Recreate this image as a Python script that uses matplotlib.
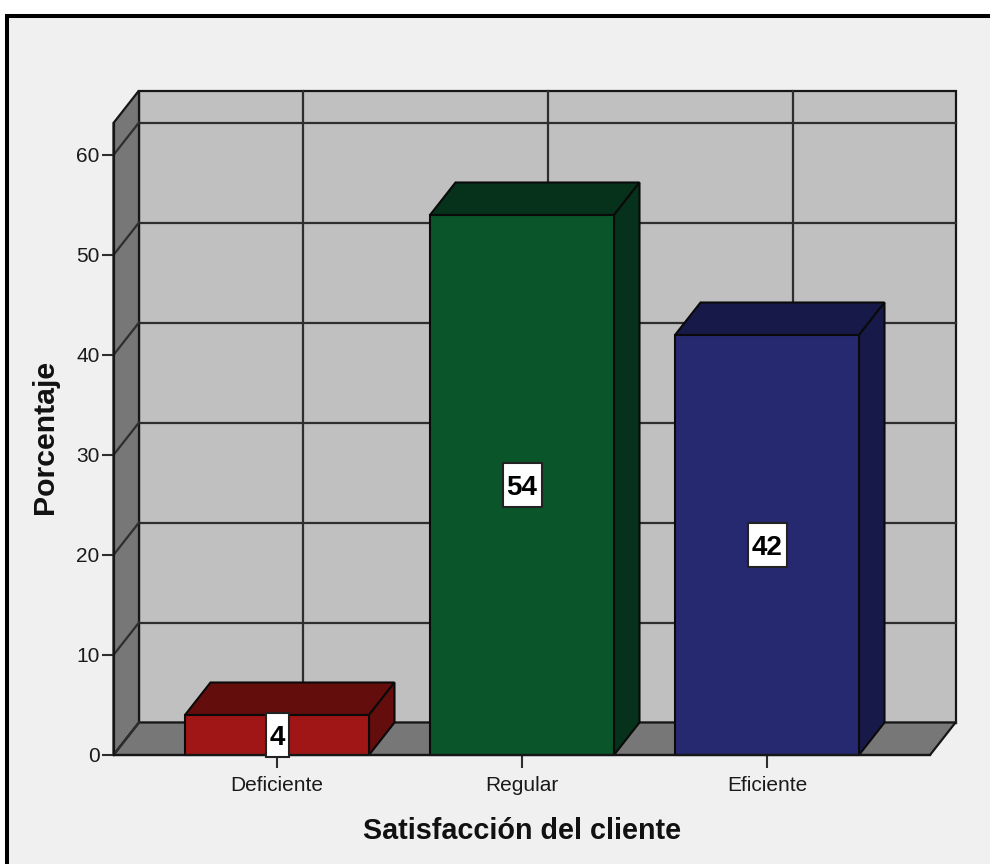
import matplotlib
matplotlib.use("Agg")
import matplotlib.pyplot as plt
from matplotlib import font_manager
from matplotlib.patches import Polygon, Rectangle

categories = ["Deficiente", "Regular", "Eficiente"]
percentages = [4, 54, 42]
y_ticks = [0, 10, 20, 30, 40, 50, 60]

face_colors = ["#a01616", "#0b552b", "#26296f"]
shade_colors = ["#640d0d", "#06311a", "#171a48"]

plt.rcParams["font.family"] = ["Liberation Sans", "DejaVu Sans"]

W, H = 990, 864
PX_PER_CAT = 245.0
PX_PER_UNIT = 10.0
DX = 25.5 / PX_PER_CAT   # depth of the box, in category units
DY = 32.5 / PX_PER_UNIT  # depth of the box, in percentage units
BAR_W = 184 / PX_PER_CAT
LEFT = (113.5 - 277) / PX_PER_CAT
RIGHT = (930 - 277) / PX_PER_CAT
TOP = 63.2
LINE = "#161616"
GRID = "#2e2e2e"

# Value labels use the condensed face when it is available
installed = {f.name for f in font_manager.fontManager.ttflist}
narrow = "Liberation Sans Narrow" in installed
value_family = "Liberation Sans Narrow" if narrow else "Liberation Sans"
value_size = 21.5 if narrow else 20

fig = plt.figure(figsize=(W / 100, H / 100), dpi=100, facecolor="white")
ax = fig.add_axes([0, 0, 1, 1], facecolor="none")
ax.set_xlim(-277 / PX_PER_CAT, (W - 277) / PX_PER_CAT)
ax.set_ylim((755 - H) / PX_PER_UNIT, 755 / PX_PER_UNIT)

# Panel background with the heavy black frame on its top and left sides
x_to_data = lambda px: (px - 277) / PX_PER_CAT
y_to_data = lambda py: (755 - py) / PX_PER_UNIT
ax.add_patch(Rectangle((x_to_data(6.7), y_to_data(H + 5)),
                       (W + 10) / PX_PER_CAT, (H - 11) / PX_PER_UNIT,
                       fc="#f0f0f0", ec="black", lw=2.9, zorder=0, clip_on=True))

# Back wall, left wall and floor of the box
ax.add_patch(Rectangle((LEFT + DX, DY), RIGHT - LEFT, TOP, fc="#c0c0c0",
                       ec=LINE, lw=1.6, zorder=1))
for v in y_ticks:
    ax.plot([LEFT + DX, RIGHT + DX], [v + DY, v + DY], color=GRID, lw=1.6, zorder=2)
for i in range(len(categories)):
    ax.plot([i + DX, i + DX], [DY, TOP + DY], color=GRID, lw=1.6, zorder=2)
ax.add_patch(Polygon([(LEFT, 0), (LEFT, TOP), (LEFT + DX, TOP + DY), (LEFT + DX, DY)],
                     fc="#777777", ec=LINE, lw=1.6, zorder=3))
ax.add_patch(Polygon([(LEFT, 0), (RIGHT, 0), (RIGHT + DX, DY), (LEFT + DX, DY)],
                     fc="#777777", ec=LINE, lw=1.6, zorder=3))
for v in y_ticks:
    ax.plot([LEFT, LEFT + DX], [v, v + DY], color=GRID, lw=1.6, zorder=4)

# Extruded bars with centred value boxes
for i, (v, face, shade) in enumerate(zip(percentages, face_colors, shade_colors)):
    x0, x1 = i - BAR_W / 2, i + BAR_W / 2
    ax.add_patch(Polygon([(x0, v), (x1, v), (x1 + DX, v + DY), (x0 + DX, v + DY)],
                         fc=shade, ec="#0a0a0a", lw=1.5, zorder=5))
    ax.add_patch(Polygon([(x1, 0), (x1 + DX, DY), (x1 + DX, v + DY), (x1, v)],
                         fc=shade, ec="#0a0a0a", lw=1.5, zorder=5))
    ax.add_patch(Rectangle((x0, 0), BAR_W, v, fc=face, ec="#0a0a0a", lw=1.5, zorder=6))
    label = str(v)
    box_w = (7 + 16 * len(label)) / PX_PER_CAT
    box_h = 44 / PX_PER_UNIT
    ax.add_patch(Rectangle((i - box_w / 2, v / 2 - box_h / 2), box_w, box_h,
                           fc="white", ec="#222222", lw=1.5, zorder=8))
    ax.text(i, v / 2, label, ha="center", va="center_baseline", family=value_family,
            fontsize=value_size, fontweight="bold", color="black", zorder=9)

# Axes drawn along the front edge of the box
for side in ("top", "right"):
    ax.spines[side].set_visible(False)
ax.spines["left"].set_position(("data", LEFT))
ax.spines["left"].set_bounds(0, TOP)
ax.spines["bottom"].set_position(("data", 0))
ax.spines["bottom"].set_bounds(LEFT, RIGHT)
for side in ("left", "bottom"):
    ax.spines[side].set_color(LINE)
    ax.spines[side].set_linewidth(1.6)
    ax.spines[side].set_zorder(7)
ax.set_xticks(range(len(categories)), categories)
ax.set_yticks(y_ticks)
ax.tick_params(axis="x", length=9.4, width=1.5, color=GRID, labelsize=15, pad=5.5, labelcolor="#1a1a1a")
ax.tick_params(axis="y", length=8.5, width=1.5, color=GRID, labelsize=15, pad=1.5, labelcolor="#1a1a1a")
ax.set_xlabel("Satisfacción del cliente", fontsize=20.7, fontweight="bold", color="#111111")
ax.set_ylabel("Porcentaje", fontsize=21.8, fontweight="bold", color="#111111")
ax.xaxis.set_label_coords(522 / W, (H - 831) / H)
ax.xaxis.label.set_va("center")
ax.yaxis.set_label_coords(45 / W, (H - 437) / H)
ax.yaxis.label.set_va("center")

fig.savefig("out.png", dpi=100)
